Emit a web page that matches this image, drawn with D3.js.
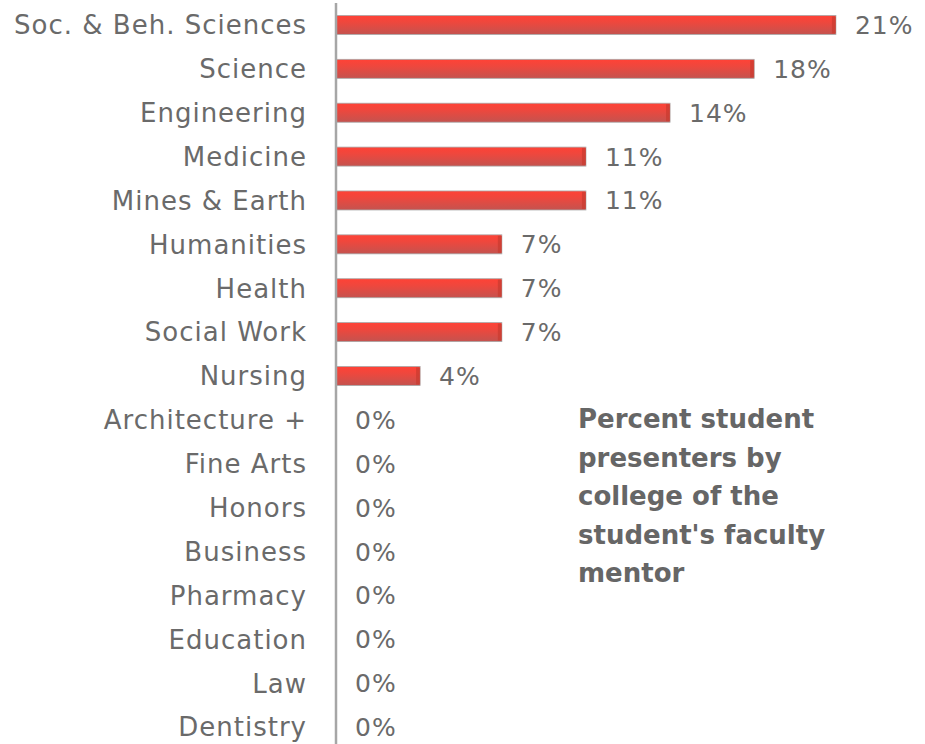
<!DOCTYPE html>
<html>
<head>
<meta charset="utf-8">
<script src="https://cdn.jsdelivr.net/npm/d3@7"></script>
<style>
  body { margin: 0; background: #fff; }
  .lbl { font-family: "DejaVu Sans", sans-serif; fill: #6a6a6a; letter-spacing: 1px; }
  .title { font-family: "DejaVu Sans", sans-serif; font-weight: bold; fill: #666; }
</style>
</head>
<body>
<div id="chart"></div>
<script>
// colleges, top to bottom
var colleges = ["Soc. & Beh. Sciences", "Science", "Engineering", "Medicine", "Mines & Earth",
  "Humanities", "Health", "Social Work", "Nursing", "Architecture +", "Fine Arts", "Honors",
  "Business", "Pharmacy", "Education", "Law", "Dentistry"];
// share of student presenters (6,5,4,3,3,2,2,2,1 of 28)
var shares = [0.214, 0.179, 0.143, 0.107, 0.107, 0.071, 0.071, 0.071, 0.036, 0, 0, 0, 0, 0, 0, 0, 0];
var titleLines = ["Percent student", "presenters by", "college of the", "student's faculty", "mentor"];

var width = 925, height = 744;

var svg = d3.select("#chart").append("svg")
    .attr("width", width)
    .attr("height", height);

var x = d3.scaleLinear().domain([0, 0.25]).range([336, 920]);
var y = d3.scaleBand().domain(colleges).range([3, 749]).padding(0);
var barH = 19;
var fmt = d3.format(".0%");

var grad = svg.append("defs").append("linearGradient")
    .attr("id", "barfill")
    .attr("x1", 0).attr("y1", 0).attr("x2", 0).attr("y2", 1);
grad.append("stop").attr("offset", "0%").attr("stop-color", "#ff4236");
grad.append("stop").attr("offset", "35%").attr("stop-color", "#ef473d");
grad.append("stop").attr("offset", "100%").attr("stop-color", "#c4534f");

var rows = colleges.map(function(c, i) { return {name: c, v: shares[i]}; });

// bars
svg.selectAll(".bar")
  .data(rows.filter(function(d) { return d.v > 0; }))
  .enter().append("rect")
    .attr("class", "bar")
    .attr("x", x(0))
    .attr("y", function(d) { return y(d.name) + y.bandwidth() / 2 - barH / 2; })
    .attr("width", function(d) { return x(d.v) - x(0); })
    .attr("height", barH)
    .attr("fill", "url(#barfill)")
    .attr("stroke", "#a8a8a8")
    .attr("stroke-width", 0.8);

// darker end cap
svg.selectAll(".cap")
  .data(rows.filter(function(d) { return d.v > 0; }))
  .enter().append("rect")
    .attr("x", function(d) { return x(d.v) - 4; })
    .attr("y", function(d) { return y(d.name) + y.bandwidth() / 2 - barH / 2 + 1; })
    .attr("width", 4)
    .attr("height", barH - 2)
    .attr("fill", "#c93a2f")
    .attr("opacity", 0.7);

// axis line
svg.append("line")
    .attr("x1", x(0)).attr("x2", x(0))
    .attr("y1", 3).attr("y2", height)
    .attr("stroke", "#a6a6a6")
    .attr("stroke-width", 2.5);

// category labels
svg.selectAll(".cat")
  .data(rows)
  .enter().append("text")
    .attr("class", "lbl")
    .attr("x", 307)
    .attr("y", function(d) { return y(d.name) + y.bandwidth() / 2; })
    .attr("dy", "0.36em")
    .attr("text-anchor", "end")
    .attr("font-size", 26)
    .text(function(d) { return d.name; });

// value labels
svg.selectAll(".val")
  .data(rows)
  .enter().append("text")
    .attr("class", "lbl")
    .attr("x", function(d) { return x(d.v) + 19; })
    .attr("y", function(d) { return y(d.name) + y.bandwidth() / 2; })
    .attr("dy", "0.36em")
    .attr("font-size", 25)
    .text(function(d) { return fmt(d.v); });

// title block
svg.append("text")
    .attr("class", "title")
    .attr("x", 578)
    .attr("y", 428)
    .attr("font-size", 26)
  .selectAll("tspan")
  .data(titleLines)
  .enter().append("tspan")
    .attr("x", 578)
    .attr("dy", function(d, i) { return i ? 38.5 : 0; })
    .text(function(d) { return d; });
</script>
</body>
</html>
